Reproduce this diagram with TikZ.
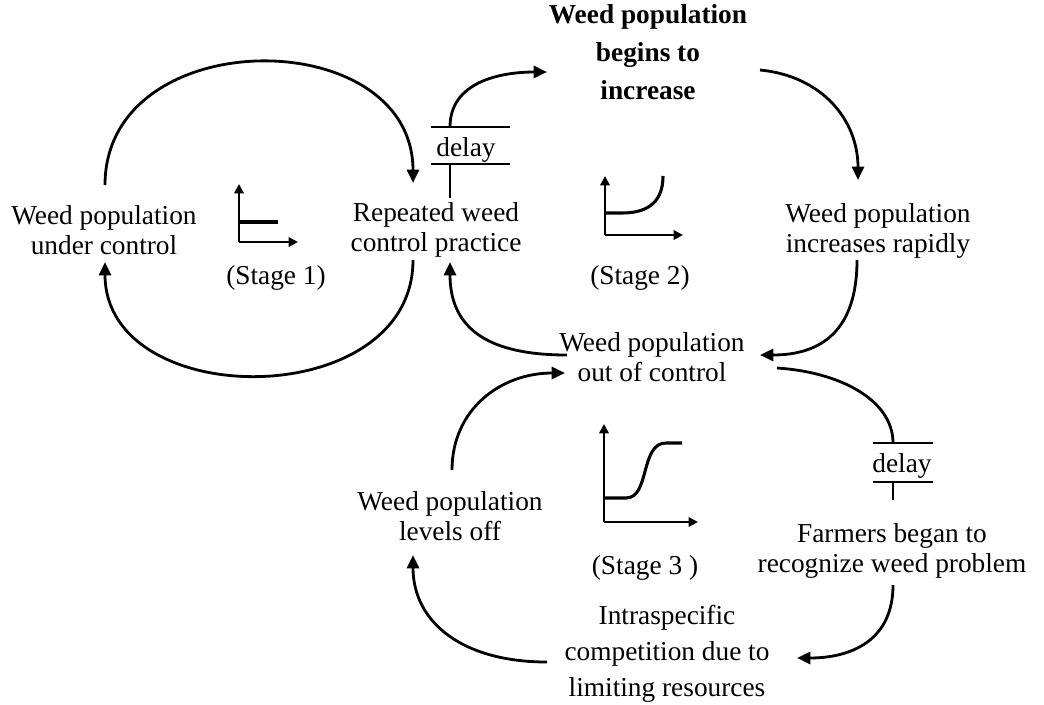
\documentclass[tikz,border=0pt]{standalone}
\usepackage{fontspec}
\setmainfont{Liberation Serif}
\usetikzlibrary{arrows.meta}
\begin{document}
\begin{tikzpicture}[x=0.75pt,y=-0.75pt,
  lbl/.style={align=center,inner sep=0pt,font=\fontsize{20.5}{22.5}\selectfont},
  dl/.style={inner sep=0pt,font=\fontsize{20.5}{22}\selectfont},
  conn/.style={line width=2.1pt,-{Triangle[length=10pt,width=9pt]}},
  plain/.style={line width=2.1pt},
  axis/.style={line width=1.8pt,-{Triangle[length=7pt,width=7pt]}},
  curve/.style={line width=2.3pt}]
\useasboundingbox (0,0) rectangle (1044,704);
% text nodes
\node[lbl] (under) at (104,230) {Weed population\\under control};
\node[lbl] (practice) at (436,230) {Repeated weed\\control practice};
\node[lbl,font=\fontsize{20.5}{28.5}\selectfont\bfseries] (begins) at (648,52) {Weed population\\begins to\\increase};
\node[lbl] (rapid) at (878,231) {Weed population\\increases rapidly};
\node[lbl] (outctl) at (652,357) {Weed population\\out of control};
\node[lbl] (levels) at (450,516) {Weed population\\levels off};
\node[lbl] (farmers) at (892,551) {Farmers began to\\recognize weed problem};
\node[lbl,font=\fontsize{20.5}{27}\selectfont] (intra) at (667,654) {Intraspecific\\competition due to\\limiting resources};
\node[lbl] (s1) at (276,278) {(Stage 1)};
\node[lbl] (s2) at (640,278) {(Stage 2)};
\node[lbl] (s3) at (645,568) {(Stage 3 )};
\node[dl] (d1) at (466,150) {delay};
\node[dl] (d2) at (902,466) {delay};
% delay bars
\coordinate (d1tl) at (431,127); \coordinate (d1tr) at (510,127);
\coordinate (d1bl) at (431,164); \coordinate (d1br) at (510,164);
\draw[plain] (d1tl) -- (d1tr);
\draw[plain] (d1bl) -- (d1br);
\coordinate (d2tl) at (873,443); \coordinate (d2tr) at (933,443);
\coordinate (d2bl) at (873,482); \coordinate (d2br) at (933,482);
\draw[plain] (d2tl) -- (d2tr);
\draw[plain] (d2bl) -- (d2br);
% connector end points
\coordinate (underTop) at (105,185);
\coordinate (underBot) at (105,262);
\coordinate (pracTop) at (413,183);
\coordinate (pracBot) at (413,260);
\coordinate (pracIn) at (450,262);
\coordinate (d1top) at (450,127);
\coordinate (d1bot) at (450,164);
\coordinate (pracDelay) at (450,198);
\coordinate (beginsIn) at (547,72);
\coordinate (beginsOut) at (760,70);
\coordinate (rapidIn) at (858,180);
\coordinate (rapidOut) at (857,260);
\coordinate (outIn) at (760,355);
\coordinate (outLeft) at (567,355);
\coordinate (outRight) at (777,368);
\coordinate (outIn2) at (565,373);
\coordinate (d2top) at (893,443);
\coordinate (d2bot) at (893,482);
\coordinate (farmDelay) at (893,500);
\coordinate (farmOut) at (893,585);
\coordinate (intraIn) at (797,658);
\coordinate (intraOut) at (547,662);
\coordinate (levelsIn) at (413,555);
\coordinate (levelsOut) at (452,470);
% stage 1 loop
\draw[conn] (underTop) .. controls (105,22) and (413,22) .. (pracTop);
\draw[conn] (pracBot) .. controls (413,413) and (105,413) .. (underBot);
% stage 2 loop
\draw[plain] (d1bot) -- (pracDelay);
\draw[conn] (d1top) .. controls (450,82) and (500,72) .. (beginsIn);
\draw[conn] (beginsOut) .. controls (822,76) and (858,120) .. (rapidIn);
\draw[conn] (rapidOut) .. controls (857,330) and (822,355) .. (outIn);
\draw[conn] (outLeft) .. controls (490,355) and (450,330) .. (pracIn);
% stage 3 loop
\draw[plain] (outRight) .. controls (840,372) and (893,400) .. (d2top);
\draw[plain] (d2bot) -- (farmDelay);
\draw[conn] (farmOut) .. controls (893,640) and (852,658) .. (intraIn);
\draw[conn] (intraOut) .. controls (462,662) and (413,622) .. (levelsIn);
\draw[conn] (levelsOut) .. controls (452,410) and (500,373) .. (outIn2);
% stage graphs
\coordinate (g1o) at (239,242);
\draw[axis] (g1o) -- (239,184);
\draw[axis] (g1o) -- (298,242);
\draw[curve] (239,222) -- (278,222);
\coordinate (g2o) at (605,235);
\draw[axis] (g2o) -- (605,176);
\draw[axis] (g2o) -- (683,235);
\draw[curve] (605,213) -- (622,213) .. controls (650,213) and (663,200) .. (663,176);
\coordinate (g3o) at (604,522);
\draw[axis] (g3o) -- (604,424);
\draw[axis] (g3o) -- (698,522);
\draw[curve] (604,498) -- (626,498) .. controls (650,498) and (640,443) .. (666,443) -- (682,443);
\end{tikzpicture}
\end{document}
